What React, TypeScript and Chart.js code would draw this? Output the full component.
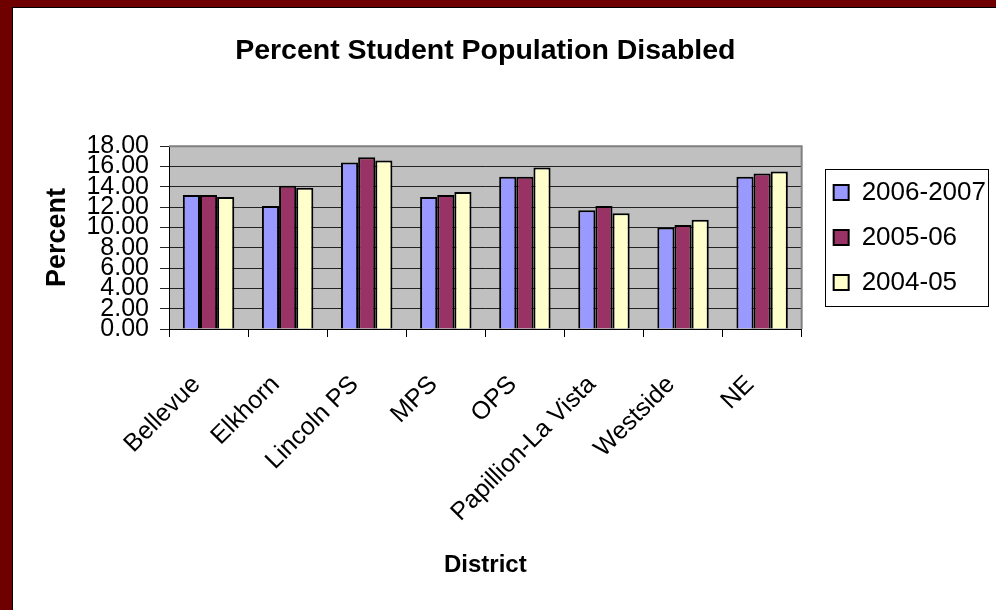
import React, { useEffect, useRef } from 'react';
import { Chart, registerables } from 'chart.js';

Chart.register(...registerables);

const districts = ['Bellevue', 'Elkhorn', 'Lincoln PS', 'MPS', 'OPS', 'Papillion-La Vista', 'Westside', 'NE'];
const seriesNames = ['2006-2007', '2005-06', '2004-05'];
const values2006_2007 = [13.2, 12.1, 16.4, 13.0, 15.0, 11.7, 10.0, 15.0];
const values2005_06 = [13.2, 14.1, 16.9, 13.2, 15.0, 12.1, 10.25, 15.3];
const values2004_05 = [13.0, 13.9, 16.6, 13.5, 15.9, 11.4, 10.75, 15.5];
const seriesColors = ['#9999FF', '#993366', '#FFFFCC'];
const yMin = 0;
const yMax = 18;
const yStep = 2;

const FONT = '"Liberation Sans", Arial, sans-serif';

const framePlugin = {
  id: 'framePlugin',
  beforeDraw(chart: any) {
    const { ctx, width, height, chartArea } = chart;
    ctx.save();
    ctx.fillStyle = '#ffffff';
    ctx.fillRect(0, 0, width, height);
    ctx.fillStyle = '#6E0000';
    ctx.fillRect(0, 0, 12, height);
    ctx.fillRect(0, 0, width, 7);
    ctx.fillStyle = '#000000';
    ctx.fillRect(12, 7, 1, height - 7);
    ctx.fillRect(12, 7, width - 12, 1);
    ctx.fillStyle = '#C0C0C0';
    ctx.fillRect(chartArea.left, chartArea.top, chartArea.right - chartArea.left, chartArea.bottom - chartArea.top);
    ctx.restore();
  },
  afterDraw(chart: any) {
    const { ctx, chartArea } = chart;
    ctx.save();
    ctx.strokeStyle = '#808080';
    ctx.lineWidth = 2;
    ctx.beginPath();
    ctx.moveTo(chartArea.left, chartArea.top);
    ctx.lineTo(chartArea.right, chartArea.top);
    ctx.lineTo(chartArea.right, chartArea.bottom);
    ctx.stroke();
    const legend = chart.legend;
    if (legend && legend.legendHitBoxes && legend.legendHitBoxes.length) {
      const boxes = legend.legendHitBoxes;
      const first = boxes[0];
      const last = boxes[boxes.length - 1];
      const left = first.left - 9;
      const top = first.top + first.height / 2 - 24;
      const bottom = last.top + last.height / 2 + 23;
      const right = left + 163;
      ctx.strokeStyle = '#000000';
      ctx.lineWidth = 1;
      ctx.strokeRect(Math.round(left) + 0.5, Math.round(top) + 0.5, Math.round(right - left), Math.round(bottom - top));
    }
    ctx.restore();
  },
};

export default function App() {
  const canvasRef = useRef<HTMLCanvasElement | null>(null);

  useEffect(() => {
    const canvas = canvasRef.current;
    if (!canvas) return;
    const seriesValues = [values2006_2007, values2005_06, values2004_05];
    const chart = new Chart(canvas, {
      type: 'bar',
      data: {
        labels: districts,
        datasets: seriesNames.map((name, i) => ({
          label: name,
          data: seriesValues[i],
          backgroundColor: seriesColors[i],
          borderColor: '#000000',
          borderWidth: 2,
          categoryPercentage: 0.65,
          barPercentage: 1.0,
        })),
      },
      options: {
        responsive: false,
        animation: false,
        devicePixelRatio: 1,
        layout: { padding: { left: 0, right: 0, top: 0, bottom: 0 } },
        plugins: {
          title: {
            display: true,
            fullSize: false,
            text: 'Percent Student Population Disabled',
            color: '#000000',
            font: { family: FONT, size: 28.5, weight: 'bold' },
            padding: { top: 34, bottom: 78 },
          },
          legend: {
            display: true,
            position: 'right',
            fullSize: false,
            labels: {
              color: '#000000',
              font: { family: FONT, size: 26 },
              boxWidth: 15,
              boxHeight: 15,
              padding: 19,
            },
          },
          tooltip: { enabled: false },
        },
        scales: {
          x: {
            type: 'category',
            offset: true,
            grid: {
              offset: true,
              drawOnChartArea: false,
              drawTicks: true,
              tickLength: 8,
              color: '#000000',
            },
            border: { display: true, color: '#000000', width: 1 },
            ticks: {
              autoSkip: false,
              minRotation: 45,
              maxRotation: 45,
              color: '#000000',
              font: { family: FONT, size: 25 },
              padding: 33,
              labelOffset: -12,
            },
            title: {
              display: true,
              text: 'District',
              color: '#000000',
              font: { family: FONT, size: 24, weight: 'bold' },
              padding: { top: 0, bottom: 30 },
            },
            afterFit: (scale: any) => {
              scale.height = 281;
            },
          },
          y: {
            type: 'linear',
            min: yMin,
            max: yMax,
            grid: {
              color: '#222222',
              tickLength: 9,
              drawTicks: true,
            },
            border: { display: true, color: '#000000', width: 1 },
            ticks: {
              stepSize: yStep,
              autoSkip: false,
              color: '#000000',
              font: { family: FONT, size: 25 },
              padding: 11,
              callback: (v: any) => Number(v).toFixed(2),
            },
            title: {
              display: true,
              text: 'Percent',
              color: '#000000',
              font: { family: FONT, size: 27, weight: 'bold' },
              padding: { top: 41, bottom: 0 },
            },
            afterFit: (scale: any) => {
              scale.width = 169;
            },
          },
          pad: {
            type: 'linear',
            position: 'right',
            display: false,
            afterFit: (scale: any) => {
              scale.width = 13;
            },
          },
        },
      },
      plugins: [framePlugin],
    } as any);
    return () => {
      chart.destroy();
    };
  }, []);

  return (
    <div style={{ position: 'absolute', left: 0, top: 0, width: 996, height: 610 }}>
      <canvas ref={canvasRef} width={996} height={610} style={{ display: 'block', width: 996, height: 610 }} />
    </div>
  );
}
